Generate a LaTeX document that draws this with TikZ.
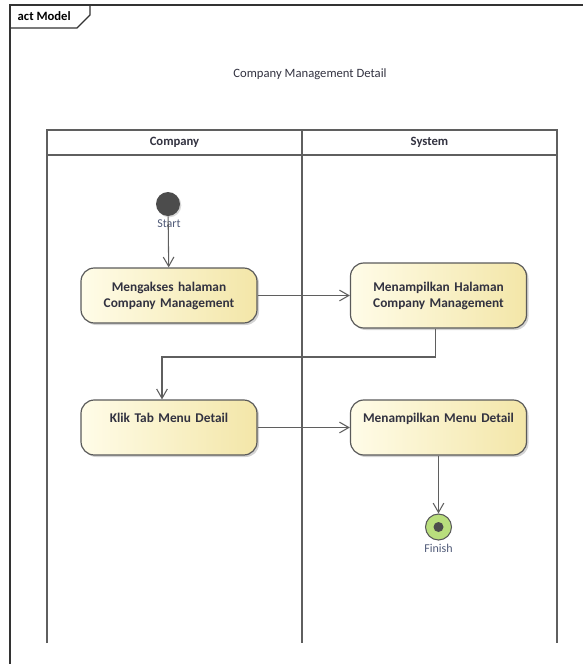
\documentclass[tikz,border=0pt]{standalone}
\usepackage{fontspec}
\setmainfont{Carlito}
\usepackage{tikz}
\usetikzlibrary{arrows.meta, positioning, shadows}
\usepackage{xcolor}

\definecolor{lanegray}{RGB}{95,95,95}
\definecolor{txtdark}{RGB}{50,50,64}
\definecolor{actleft}{RGB}{255,252,232}
\definecolor{actright}{RGB}{243,230,168}
\definecolor{actborder}{RGB}{90,90,90}
\definecolor{endgreen}{RGB}{185,222,125}
\definecolor{lbl}{RGB}{80,90,120}

\begin{document}
\begin{tikzpicture}[x=0.75pt,y=-0.75pt,>={Straight Barb[length=7pt,width=8pt]}]
  \tikzstyle{action}=[draw=actborder,line width=0.9pt,rounded corners=10pt,
    left color=actleft,right color=actright,
    drop shadow={opacity=0.35,shadow xshift=1.5pt,shadow yshift=-1.5pt},
    minimum width=132pt,text width=124pt,align=center,
    font=\fontsize{10}{12}\selectfont\bfseries,text=txtdark]
  \tikzstyle{flow}=[draw=lanegray,line width=0.8pt]
  \tikzstyle{lane}=[draw=lanegray,line width=1.5pt]

  \useasboundingbox (0,0) rectangle (583,664);

  % frame
  \draw[line width=1.1pt,draw=black!80] (10,664) -- (10,5) -- (583,5);
  \draw[line width=0.9pt,draw=black!80] (10,28) -- (77,28) -- (90,15) -- (90,5);
  \node[anchor=west,font=\fontsize{9.5}{11}\selectfont\bfseries] (frm) at (13,16) {act Model};

  \node[font=\fontsize{9.5}{11}\selectfont,text=txtdark] (title) at (310,74) {Company Management Detail};

  % swimlanes
  \draw[lane] (47,643) -- (47,130) -- (557,130) -- (557,643);
  \draw[lane] (47,155) -- (557,155);
  \draw[lane] (302,130) -- (302,643);
  \node[font=\fontsize{9.5}{11}\selectfont\bfseries,text=txtdark] (l_1) at (174.5,142.5) {Company};
  \node[font=\fontsize{9.5}{11}\selectfont\bfseries,text=txtdark] (l_2) at (429.5,142.5) {System};

  % nodes
  \node[circle,fill=black!70,minimum size=18pt,inner sep=0pt,
        drop shadow={opacity=0.3,shadow xshift=1pt,shadow yshift=-1pt}] (start) at (168,204) {};
  \node[font=\fontsize{9}{10}\selectfont,text=lbl,inner sep=0.5pt] (s_lbl) at (169,224) {Start};

  \node[action,minimum height=41.25pt] (a_1) at (169,295.5) {Mengakses halaman\\Company Management};
  \node[action,minimum height=48.75pt] (a_2) at (438.5,295.5) {Menampilkan Halaman\\Company Management\\[5pt]};
  \node[action,minimum height=41.25pt,text height=11.5pt,text depth=19.75pt,inner ysep=5pt]
        (a_3) at (169,427.5) {Klik Tab Menu Detail};
  \node[action,minimum height=41.25pt,text height=11.5pt,text depth=19.75pt,inner ysep=5pt]
        (a_4) at (438.5,427.5) {Menampilkan Menu Detail};

  \node[circle,draw=black!65,line width=0.8pt,fill=endgreen,minimum size=19.5pt,inner sep=0pt] (finish) at (438.5,527) {};
  \node[circle,fill=black!70,minimum size=7.5pt,inner sep=0pt] (f_dot) at (finish) {};
  \node[font=\fontsize{9}{10}\selectfont,text=lbl] (f_lbl) at (438.5,548) {Finish};

  \coordinate (bend) at (162,357);

  % flows
  \path[->,flow]
  (start)  edge (a_1)
  (a_1)    edge (a_2)
  (a_3)    edge (a_4)
  (a_4)    edge (finish)
  ;
  \draw[->,flow] ([xshift=-2pt]a_2.south) |- (bend) -- (bend |- a_3.north);
\end{tikzpicture}
\end{document}
